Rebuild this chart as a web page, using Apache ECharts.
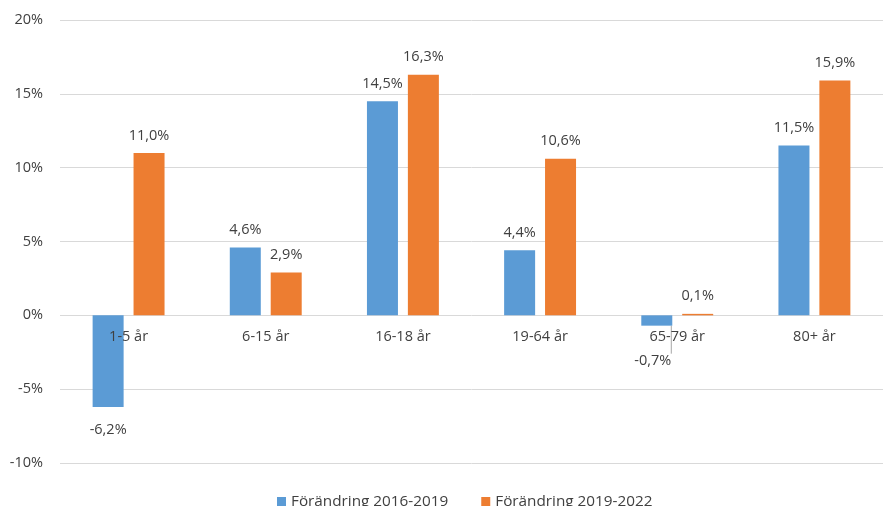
<!DOCTYPE html>
<html>
<head>
<meta charset="utf-8">
<script src="https://cdn.jsdelivr.net/npm/echarts@6/dist/echarts.min.js"></script>
<style>
  html, body { margin: 0; padding: 0; background: #fff; }
  #chart { width: 883px; height: 506px; }
</style>
</head>
<body>
<div id="chart"></div>
<script>
// åldersgrupper och procentuell förändring
const categories = ['1-5 år', '6-15 år', '16-18 år', '19-64 år', '65-79 år', '80+ år']
const change2016to2019 = [-6.2, 4.6, 14.5, 4.4, -0.7, 11.5]
const change2019to2022 = [11.0, 2.9, 16.3, 10.6, 0.1, 15.9]
const seriesNames = ['Förändring 2016-2019', 'Förändring 2019-2022']

const textColor = '#404040'
const font = 'Open Sans'
const yMin = -10, yMax = 20
const plotTop = 20, plotHeight = 443

const pct = v => v.toFixed(1).replace('.', ',') + '%'

function barData(values) {
  return values.map(v => {
    const item = { value: v }
    if (v < 0 && v > -2) {
      // liten negativ stapel: etikett förskjuten nedåt med ledarlinje
      item.label = { position: 'bottom', distance: 28, offset: [-4, 0] }
      item.labelLine = { show: true }
    } else if (v < 0) {
      item.label = { position: 'bottom', distance: 15 }
    }
    return item
  })
}

const chart = echarts.init(document.getElementById('chart'))

const label = {
  show: true,
  position: 'top',
  distance: 10,
  color: textColor,
  fontFamily: font,
  fontSize: 14.5,
  formatter: p => pct(p.value)
}

// kategoriaxeln ligger på nollinjen
const zeroOffset = -plotHeight * (0 - yMin) / (yMax - yMin)

chart.setOption({
  animation: false,
  grid: { left: 60, top: plotTop, width: 834, height: plotHeight },
  legend: {
    bottom: -8,
    left: 272,
    itemWidth: 9,
    itemHeight: 9,
    itemGap: 33,
    icon: 'rect',
    textStyle: { color: textColor, fontFamily: font, fontSize: 15.3 },
    data: seriesNames
  },
  xAxis: {
    type: 'category',
    data: categories,
    offset: zeroOffset,
    axisLine: { show: false, onZero: false },
    axisTick: { show: false },
    axisLabel: { color: textColor, fontFamily: font, fontSize: 14.5, margin: 14 },
    z: 10
  },
  yAxis: {
    type: 'value',
    min: yMin,
    max: yMax,
    interval: 5,
    axisLine: { show: false },
    axisTick: { show: false },
    axisLabel: { color: textColor, fontFamily: font, fontSize: 14.5, margin: 17, formatter: v => v + '%' },
    splitLine: { lineStyle: { color: '#d9d9d9', width: 1 } }
  },
  series: [
    {
      name: seriesNames[0],
      type: 'bar',
      data: barData(change2016to2019),
      barWidth: 31,
      barGap: '32%',
      itemStyle: { color: '#5b9bd5' },
      label: label,
      labelLine: { lineStyle: { color: '#a6a6a6' } }
    },
    {
      name: seriesNames[1],
      type: 'bar',
      data: barData(change2019to2022),
      barWidth: 31,
      itemStyle: { color: '#ed7d31' },
      label: label
    }
  ]
})
</script>
</body>
</html>
